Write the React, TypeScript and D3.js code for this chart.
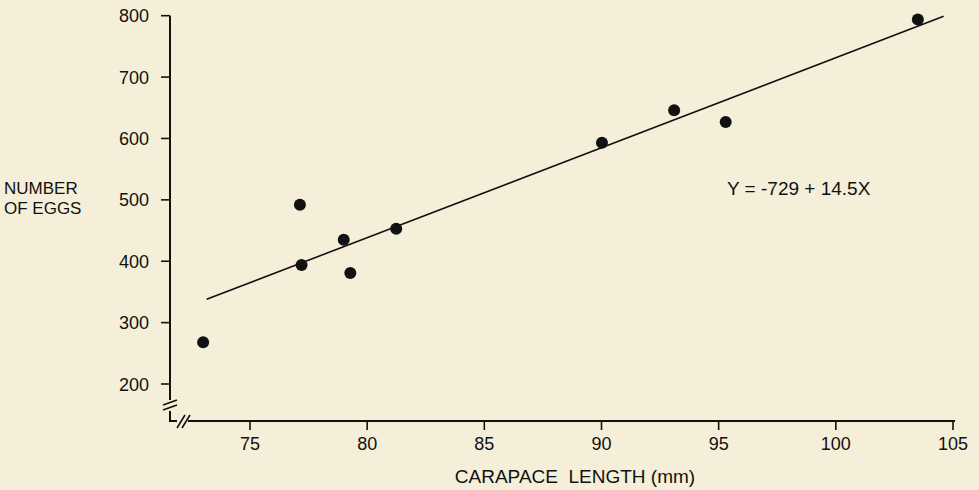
import React from "react";
import * as d3 from "d3";

const carapaceLength = [73.0, 77.13, 77.2, 79.0, 79.28, 81.24, 90.02, 93.1, 95.3, 103.5];
const numberOfEggs = [268, 492, 394, 435, 381, 453, 593, 646, 627, 794];
const fitLineX = [73.15, 104.6];
const fitLineY = [338, 799];
const xTicks = [75, 80, 85, 90, 95, 100, 105];
const yTicks = [200, 300, 400, 500, 600, 700, 800];
const equationText = "Y = -729 + 14.5X";
const xLabel = "CARAPACE\u00a0\u00a0LENGTH (mm)";
const yLabelLines = ["NUMBER", "OF EGGS"];

const W = 979;
const H = 490;
const FONT = "'Liberation Sans', Arial, Helvetica, sans-serif";
const INK = "#111";

export default function App() {
  const x = d3.scaleLinear().domain([75, 105]).range([250, 953]);
  const y = d3.scaleLinear().domain([200, 800]).range([384, 15.7]);
  const axisX = 170;
  const axisY = 421;

  const line = d3
    .line<number>()
    .x((_, i) => x(fitLineX[i]))
    .y((_, i) => y(fitLineY[i]));

  return (
    <svg
      width={W}
      height={H}
      style={{ position: "absolute", left: 0, top: 0, background: "#f5efd9" }}
      fontFamily={FONT}
    >
      <rect x={0} y={0} width={W} height={H} fill="#f5efd9" />
      {/* Y axis */}
      <line x1={axisX} y1={y(800)} x2={axisX} y2={400} stroke={INK} strokeWidth={2} />
      <line x1={axisX} y1={411} x2={axisX} y2={axisY} stroke={INK} strokeWidth={2} />
      <line x1={163} y1={405} x2={177} y2={400} stroke={INK} strokeWidth={1.6} />
      <line x1={163} y1={410} x2={177} y2={405} stroke={INK} strokeWidth={1.6} />
      {/* X axis */}
      <line x1={axisX - 1} y1={axisY} x2={177} y2={axisY} stroke={INK} strokeWidth={2} />
      <line x1={188} y1={axisY} x2={955} y2={axisY} stroke={INK} strokeWidth={2} />
      <line x1={177} y1={428} x2={185} y2={415} stroke={INK} strokeWidth={1.6} />
      <line x1={182} y1={428} x2={190} y2={415} stroke={INK} strokeWidth={1.6} />

      {yTicks.map((t) => (
        <g key={"y" + t}>
          <line x1={axisX - 9} y1={y(t)} x2={axisX} y2={y(t)} stroke={INK} strokeWidth={1.6} />
          <text x={149} y={y(t) + 6.5} textAnchor="end" fontSize={18} fill={INK}>
            {t}
          </text>
        </g>
      ))}
      {xTicks.map((t) => (
        <g key={"x" + t}>
          <line x1={x(t)} y1={axisY} x2={x(t)} y2={axisY + 9} stroke={INK} strokeWidth={1.6} />
          <text x={x(t)} y={450} textAnchor="middle" fontSize={18} fill={INK}>
            {t}
          </text>
        </g>
      ))}

      <path d={line(fitLineX) || ""} fill="none" stroke={INK} strokeWidth={1.6} />

      {carapaceLength.map((c, i) => (
        <circle key={i} cx={x(c)} cy={y(numberOfEggs[i])} r={6} fill={INK} />
      ))}

      <text x={727} y={195} fontSize={19} fill={INK}>
        {equationText}
      </text>
      <text x={575} y={483} textAnchor="middle" fontSize={19} fill={INK}>
        {xLabel}
      </text>
      {yLabelLines.map((s, i) => (
        <text key={s} x={4} y={194 + i * 20} fontSize={17} fill={INK}>
          {s}
        </text>
      ))}
    </svg>
  );
}
